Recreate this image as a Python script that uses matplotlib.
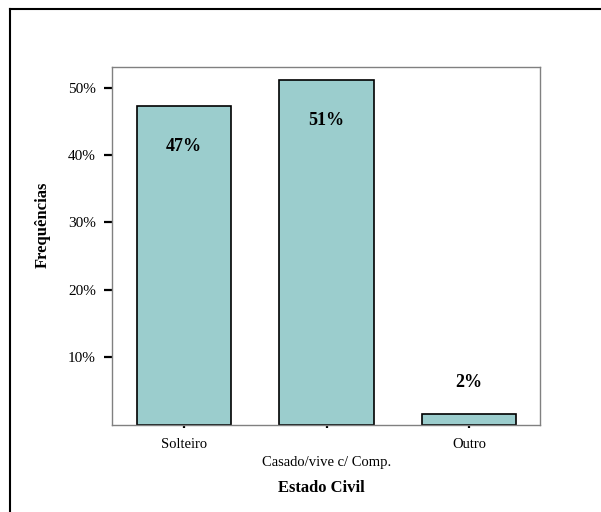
import matplotlib

matplotlib.use("Agg")
import matplotlib.pyplot as plt  # noqa: E402
from matplotlib.lines import Line2D  # noqa: E402

# Estado civil -> frequência (%)
categories = ["Solteiro", "Casado/vive c/ Comp.", "Outro"]
values = [47.3, 51.1, 1.6]
value_labels = ["47%", "51%", "2%"]
yticks = [10, 20, 30, 40, 50]
ytick_labels = ["10%", "20%", "30%", "40%", "50%"]

BAR_COLOR = "#9bcdcd"

plt.rcParams["font.family"] = ["Liberation Serif", "DejaVu Serif"]

fig = plt.figure(figsize=(6.01, 5.12), dpi=100)
ax = fig.add_axes([0.1859, 0.1705, 0.7131, 0.698])

xs = list(range(len(categories)))
ax.bar(xs, values, width=0.66, color=BAR_COLOR, edgecolor="black",
       linewidth=1.2, zorder=2)

for x, v, lab in zip(xs, values, value_labels):
    y = v - 6.0 if v > 10 else v + 4.6
    ax.text(x, y, lab, ha="center", va="center", fontsize=13,
            fontweight="bold")

ax.set_xlim(-0.507, 2.5)
ax.set_ylim(0, 53)
ax.set_yticks(yticks)
ax.set_yticklabels(ytick_labels, fontsize=11)
ax.set_xticks(xs)
# second label sits one row lower (staggered, as in the original)
ax.set_xticklabels([c if i != 1 else "\n" + c for i, c in enumerate(categories)],
                   fontsize=10.5, linespacing=1.45)

ax.tick_params(axis="y", length=5.8, width=1.6, pad=5.5, color="black")
ax.tick_params(axis="x", length=2.2, width=1.6, pad=7.5, color="black")
for s in ax.spines.values():
    s.set_color("#808080")
    s.set_linewidth(1.0)

fig.text(321 / 601, 1 - 488 / 512, "Estado Civil", ha="center", va="center",
         fontsize=12, fontweight="bold")
fig.text(43 / 601, 1 - 225 / 512, "Frequências", ha="center", va="center",
         rotation=90, fontsize=12, fontweight="bold")

# outer frame (only left and top edges fall inside the picture)
fig.add_artist(Line2D([10 / 601, 10 / 601], [0, 1 - 9 / 512], color="black",
                      linewidth=1.5, transform=fig.transFigure))
fig.add_artist(Line2D([10 / 601, 1], [1 - 9 / 512, 1 - 9 / 512], color="black",
                      linewidth=1.5, transform=fig.transFigure))

fig.savefig("out.png", dpi=100)
plt.close(fig)
